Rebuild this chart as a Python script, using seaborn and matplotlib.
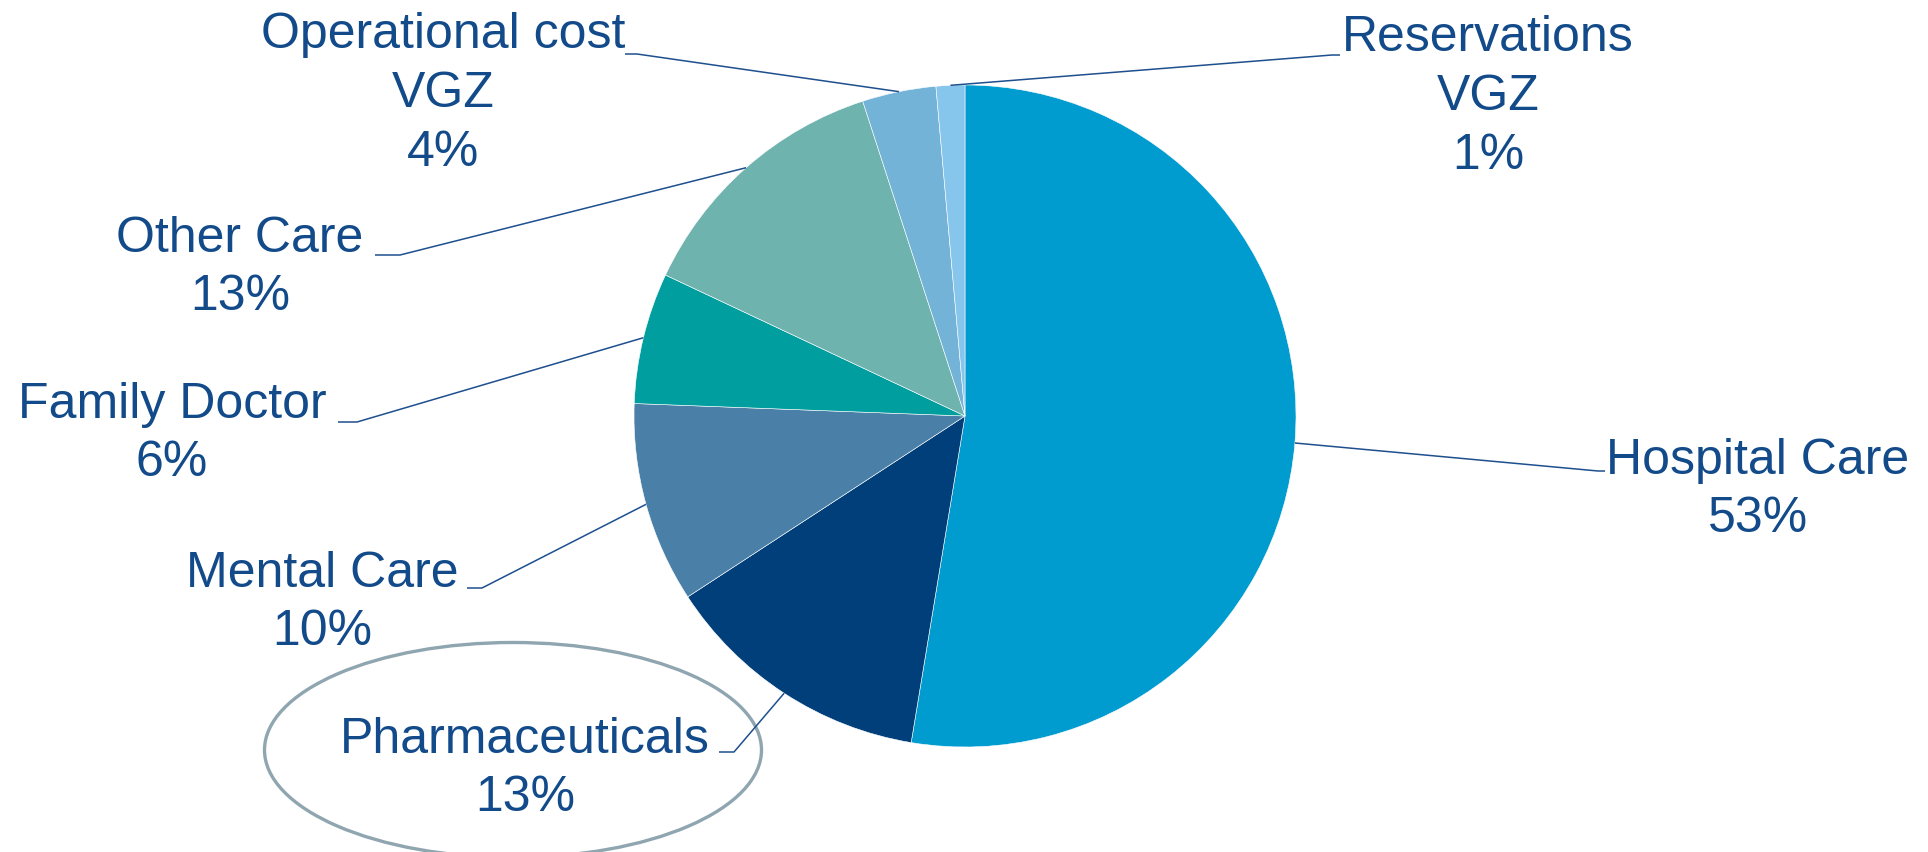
import matplotlib
matplotlib.use("Agg")
import matplotlib.pyplot as plt
import seaborn as sns
import numpy as np
from matplotlib.patches import Ellipse

# ---- data ----
categories = ["Hospital Care", "Pharmaceuticals", "Mental Care", "Family Doctor",
              "Other Care", "Operational cost\nVGZ", "Reservations\nVGZ"]
shares = [52.6, 13.2, 9.8, 6.4, 13.0, 3.6, 1.4]
colors = ["#009BCF", "#003F7A", "#4A7FA7", "#009E9E", "#6FB3AE", "#74B3D8", "#86C5EC"]

# ---- layout (pixel positions, top-left origin) ----
label_pos = [(1758, 490), (525, 769), (322, 603), (172, 434), (240, 268), (443, 94), (1488, 97)]
elbows = [((1598, 471), (1605, 471)), ((734, 752), (719, 752)), ((482, 588), (467, 588)),
          ((357, 422), (338, 422)), ((400, 255), (375, 255)), ((637, 54), (625, 54)),
          ((1332, 55), (1340, 55))]

sns.set_theme(style="white")
plt.rcParams['font.family'] = ['Liberation Sans', 'DejaVu Sans']

W, H = 1928, 852
fig = plt.figure(figsize=(W / 100, H / 100), dpi=100)
ax = fig.add_axes([0, 0, 1, 1])

def py(y):
    return H - y

cx, cy, R = 965, py(416), 331
wedges, _ = ax.pie(shares, colors=colors, startangle=90, counterclock=False,
                   center=(cx, cy), radius=R, frame=True,
                   wedgeprops=dict(edgecolor="white", linewidth=0.4))
ax.set_xlim(0, W)
ax.set_ylim(0, H)
ax.set_aspect('equal')
ax.axis('off')

text_color = "#124A8A"
line_color = "#1E4F8E"
for w, name, v, (lx, ly), (e1, e2) in zip(wedges, categories, shares, label_pos, elbows):
    mid = np.deg2rad((w.theta1 + w.theta2) / 2)
    ax0 = cx + R * np.cos(mid)
    ay0 = cy + R * np.sin(mid)
    ax.plot([ax0, e1[0], e2[0]], [ay0, py(e1[1]), py(e2[1])], color=line_color, lw=1.1,
            solid_capstyle='butt')
    ax.text(lx, py(ly), f"{name}\n{round(v)}%", ha="center", va="center",
            fontsize=36, color=text_color, linespacing=1.36)

ax.add_patch(Ellipse((513, py(750)), 497, 215, facecolor="none", edgecolor="#8FA5B0", lw=2.4))

fig.savefig("out.png", dpi=100, facecolor="white")
